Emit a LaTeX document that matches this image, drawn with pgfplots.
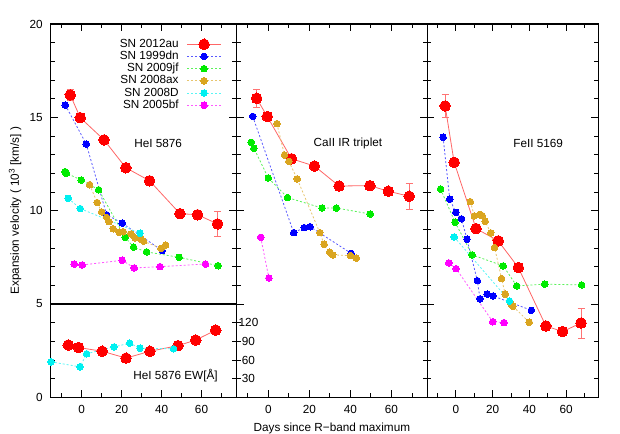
\documentclass[border=0pt]{standalone}
\usepackage{fontspec}
\setmainfont{Liberation Sans}
\usepackage{pgfplots}
\pgfplotsset{compat=1.18}
\definecolor{cR}{RGB}{255,0,0}
\definecolor{cB}{RGB}{0,0,255}
\definecolor{cG}{RGB}{0,235,0}
\definecolor{cO}{RGB}{218,165,32}
\definecolor{cC}{RGB}{0,240,240}
\definecolor{cM}{RGB}{255,0,255}
\pgfplotsset{
  panel/.style={
    scale only axis, height=373.3bp, clip=false,
    xmin=-15.5, xmax=77.5, ymin=0, ymax=20,
    xtick={0,20,40,60}, minor xtick={-10,10,30,50,70},
    ytick={0,5,10,15,20}, minor ytick={1,2,3,4,6,7,8,9,11,12,13,14,16,17,18,19},
    major tick length=7bp, minor tick length=4bp,
    every tick/.style={black, line width=0.8bp},
    axis line style={line width=1.2bp},
    /pgf/number format/assume math mode=true,
    xticklabel style={yshift=-4.5bp},
    yticklabel style={xshift=-4.6bp},
  },
  sR/.style={draw=cR!60, line width=0.8bp, mark=*, mark size=5.3bp,
    mark options={solid, fill=cR, draw=cR, line width=0pt}},
  sO/.style={draw=#1!65, line width=0.8bp, dash pattern=on 2bp off 2bp, mark=*, mark size=3.3bp,
    mark options={solid, fill=#1, draw=#1, line width=0pt}},
  eb/.style={draw=none, mark=none, forget plot,
    error bars/.cd, y dir=both, y explicit,
    error bar style={draw=cR!55, line width=0.7bp, solid},
    error mark options={rotate=90, mark size=3.5bp, draw=cR!55, line width=0.7bp}},
}
\begin{document}
\begin{tikzpicture}[font=\fontsize{11.8}{14}\selectfont]
\path[use as bounding box] (0,0) rectangle (620bp,434bp);
% ---------------- Left panel: HeI 5876 ----------------
\begin{axis}[panel, at={(50.7bp,36.7bp)}, anchor=south west, width=185.8bp,
  ylabel={Expansion velocity ( 10\textsuperscript{3} [km/s] )},
  ylabel style={at={(axis description cs:-0.192,0.5)}, anchor=center},
  legend cell align=right,
  legend plot pos=right,
  legend image code/.code={\draw[mark repeat=2,mark phase=2] plot coordinates {(0bp,0bp) (17bp,0bp) (34bp,0bp)};},
  legend style={draw=none, fill=none, at={(axis description cs:0.92,0.961)}, anchor=north east,
    inner sep=0pt, row sep=1.2bp, column sep=8bp,
    nodes={inner sep=0pt, text height=8.6bp, text depth=2.4bp}},
]
\addplot[eb] coordinates {(-5.7,16.2) +- (0,0.3) (68,9.29) +- (0,0.68)};
\addplot[sR] coordinates {(-5.7,16.2) (-0.7,14.98) (11.2,13.79) (22.1,12.3) (34,11.6) (49.2,9.84) (58,9.78) (68,9.29)};
\addlegendentry{SN 2012au}
\addplot[sO=cB] coordinates {(-8.2,15.66) (2.3,13.57) (12.5,9.78) (20.3,9.33) (40.3,7.86)};
\addlegendentry{SN 1999dn}
\addplot[sO=cG] coordinates {(-8.3,12.09) (-7.6,12.0) (-0.2,11.64) (8.5,11.12) (21.8,8.57) (26,8.04) (32.5,7.79) (48.8,7.5) (68.3,7.05)};
\addlegendentry{SN 2009jf}
\addplot[sO=cO] coordinates {(4,11.39) (7.8,10.43) (10,9.93) (12.5,9.64) (13.7,9.41) (15.8,9.03) (18.7,8.84) (20.8,8.87) (24.7,8.75) (26.7,8.55) (29.7,8.47) (31,8.36) (39.7,7.98) (42,8.16)};
\addlegendentry{SN 2008ax}
\addplot[sO=cC] coordinates {(-6.7,10.66) (-0.7,10.11) (29.2,8.79)};
\addlegendentry{SN 2008D}
\addplot[sO=cM] coordinates {(-3.7,7.14) (0.3,7.09) (20.3,7.34) (26.3,6.93) (39.2,7.0) (62,7.14)};
\addlegendentry{SN 2005bf}
\draw[line width=1.2bp] (rel axis cs:0,0.25) -- (rel axis cs:1,0.25);
\node at (axis cs:38.3,13.6) {HeI 5876};
\node at (axis cs:47,1.16) {HeI 5876 EW[Å]};
\end{axis}
% ---------------- EW overlay (Angstrom scale) ----------------
\begin{axis}[scale only axis, at={(50.7bp,36.7bp)}, anchor=south west, width=185.8bp, height=373.3bp,
  clip=false, xmin=-15.5, xmax=77.5, ymin=0, ymax=600,
  hide x axis, axis y line*=right, axis line style={draw=none},
  ytick={30,60,90,120}, major tick length=0pt,
  /pgf/number format/assume math mode=true,
  yticklabel style={anchor=west, text width=22bp, align=center, inner sep=0pt, xshift=0.8bp},
]
\addplot[sR] coordinates {(-6.7,84) (-1.5,80) (10.3,74) (22.2,63) (34.2,74) (48.2,83) (57.1,92) (67.1,108)};
\addplot[sO=cC] coordinates {(-15.4,57) (-0.8,49) (2.5,70) (16.2,81) (24,87) (29.2,79) (46,78)};
\end{axis}
% ---------------- Middle panel: CaII IR triplet ----------------
\begin{axis}[panel, at={(236.5bp,36.7bp)}, anchor=south west, width=190.8bp,
  yticklabels={},
  xlabel={Days since R−band maximum},
  xlabel style={at={(axis description cs:0.5,0)}, anchor=center, yshift=-31bp},
]
\addplot[eb] coordinates {(-5.7,16.02) +- (0,0.5) (68.7,10.77) +- (0,0.7)};
\addplot[sR] coordinates {(-5.7,16.02) (-0.5,15.04) (11.3,12.78) (22.5,12.39) (34.5,11.32) (49.5,11.34) (58.5,11.04) (68.7,10.77)};
\addplot[sO=cB] coordinates {(-7.6,15.05) (12.4,8.82) (17.5,9.09) (20.4,9.14) (40.4,7.71)};
\addplot[sO=cG] coordinates {(-8.3,13.66) (-7,13.34) (0,11.75) (9.4,10.7) (26.2,10.14) (33.2,10.14) (49.7,9.82)};
\addplot[sO=cO] coordinates {(4.2,14.66) (7.9,12.98) (10,12.64) (14.1,11.7) (25.1,8.82) (27.2,8.2) (29.9,7.77) (31.4,7.63) (40.1,7.59) (42.9,7.46)};
\addplot[sO=cM] coordinates {(-3.7,8.57) (0.3,6.39)};
\node at (axis cs:38.8,13.6) {CaII IR triplet};
\end{axis}
% ---------------- Right panel: FeII 5169 ----------------
\begin{axis}[panel, at={(427.3bp,36.7bp)}, anchor=south west, width=171bp,
  yticklabels={},
]
\addplot[eb] coordinates {(-5.8,15.61) +- (0,0.62) (68.1,3.98) +- (0,0.8)};
\addplot[sR] coordinates {(-5.8,15.61) (-0.9,12.59) (11,9.04) (23.1,8.38) (34,6.95) (49,3.82) (58.1,3.52) (68.1,3.98)};
\addplot[sO=cB] coordinates {(-6.9,13.93) (-3.3,10.62) (0,9.91) (3.1,9.56) (6.1,8.47) (11.7,6.25) (13.2,5.27) (17.1,5.53) (20.3,5.43) (41.1,4.66)};
\addplot[sO=cG] coordinates {(-8.3,11.16) (-0.4,9.38) (8.9,7.63) (25.8,7.04) (33.1,5.97) (48.4,6.06) (68.4,6.02)};
\addplot[sO=cO] coordinates {(7.9,10.48) (10.1,9.72) (13.1,9.8) (14.4,9.73) (16,9.43) (19,8.81) (21.1,8.02) (24.9,6.36) (26.9,5.52) (30,4.99) (31.1,4.88) (39.9,4.02)};
\addplot[sO=cC] coordinates {(-0.9,8.59) (29.2,5.16)};
\addplot[sO=cM] coordinates {(-3.8,7.2) (0.2,6.89) (20.1,4.05) (26.2,4.0)};
\node at (axis cs:44.8,13.6) {FeII 5169};
\end{axis}
\end{tikzpicture}
\end{document}
